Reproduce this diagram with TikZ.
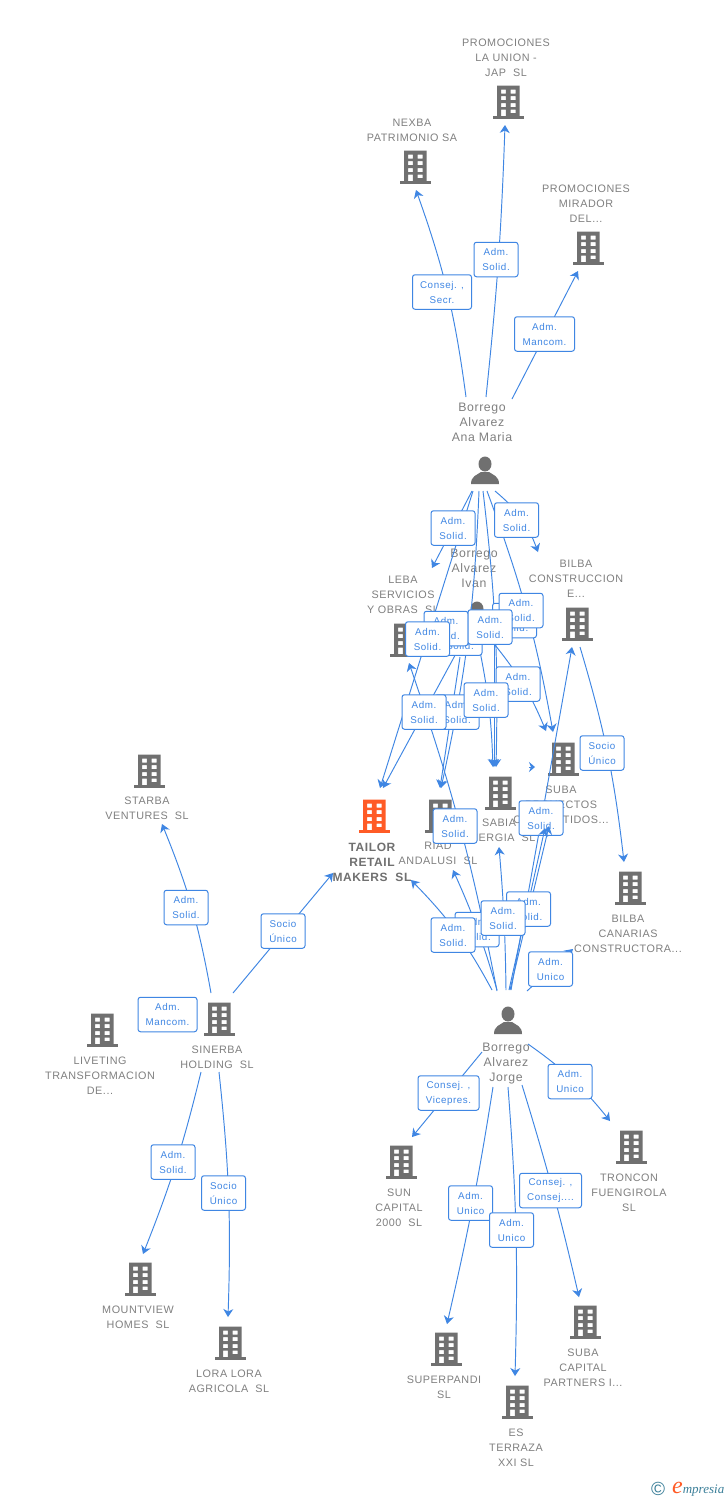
\documentclass[tikz,border=0pt]{standalone}
\usepackage{fontspec}
\setmainfont{Liberation Sans}
\newfontfamily\logofont{Liberation Serif}
\newfontfamily\spacedfont[LetterSpace=5]{Liberation Sans}
\newfontfamily\tagfont[LetterSpace=6]{Liberation Sans}
\usetikzlibrary{arrows.meta}
\definecolor{linkblue}{HTML}{3F86E3}
\definecolor{greytxt}{HTML}{808080}
\definecolor{icongrey}{HTML}{707070}
\definecolor{hiorange}{HTML}{FF5B26}
\definecolor{logoteal}{HTML}{3B7F99}
\tikzset{
 edge/.style={draw=linkblue,line width=0.95pt,-{Stealth[length=8pt,width=10pt,inset=2.5pt]}},
 tinyedge/.style={draw=linkblue,line width=0.95pt,-{Stealth[length=6pt,width=10pt,inset=2pt]}},
 iconnode/.style={minimum width=31pt,minimum height=33pt,inner sep=0pt},
 lbl/.style={align=center,text=greytxt,inner sep=0pt,yshift=-1pt,font=\spacedfont\fontsize{10.8}{15}\selectfont},
 plbl/.style={align=center,text=greytxt,inner sep=0pt,yshift=-1pt,font=\spacedfont\fontsize{12.3}{15}\selectfont},
 hilbl/.style={align=center,text=icongrey,inner sep=0pt,yshift=-1pt,font=\spacedfont\fontsize{12}{15}\selectfont\bfseries},
 tag/.style={draw=linkblue,line width=1pt,rounded corners=2.5pt,fill=white,text=linkblue,align=center,
   inner sep=0pt,minimum width=44pt,minimum height=34.5pt,font=\tagfont\fontsize{9.8}{15}\selectfont,
   execute at begin node={\rule{0pt}{9.2pt}}},
 widetag/.style={tag,minimum width=59pt},
}
\newcommand{\bldg}[4][icongrey]{%
 \node[iconnode] (#2) at (#3,#4) {};
 \begin{scope}[shift={(#3,#4)}]
  \fill[#1,even odd rule] (-11,-16.5) rectangle (11.5,14)
    (-7,-12.5) rectangle (-2.2,-8.5) (2.5,-12.5) rectangle (7.5,-8.5)
    (-7,-5.8) rectangle (-2.2,-1.8) (2.5,-5.8) rectangle (7.5,-1.8)
    (-7,1) rectangle (-2.2,5) (2.5,1) rectangle (7.5,5)
    (-7,7.5) rectangle (-2.2,14) (2.5,7.5) rectangle (7.5,11);
  \fill[#1] (-15.5,14) rectangle (16,16.5);
 \end{scope}}
\newcommand{\pers}[3]{%
 \node[iconnode,minimum width=27pt,minimum height=28pt] (#1) at (#2,#3) {};
 \begin{scope}[shift={(#2,#3)}]
  \fill[icongrey] (0,-6) ellipse (6.5 and 7.5);
  \fill[icongrey] (-14,14) .. controls (-14,6) and (-8,5) .. (-4,2) -- (4,2) .. controls (8,5) and (14,6) .. (14,14) -- cycle;
 \end{scope}}
% \conn[bend]{src}{sx,sy}{dst}{dx,dy}
\newcommand{\conn}[5][]{\draw[edge] ([shift={(#3)}]#2.center) to[#1] ([shift={(#5)}]#4.center);}
\begin{document}
\begin{tikzpicture}[x=1pt,y=-1pt]
\useasboundingbox (0,0) rectangle (728,1500);
\fill[white] (0,0) rectangle (728,1500);
% icons and names
\bldg{union}{508}{102}
\bldg{nexba}{415}{167}
\bldg{mirador}{588}{248}
\bldg{bilbac}{577}{624}
\bldg{leba}{405}{640}
\bldg{suba}{563}{759}
\bldg{sabia}{500}{793}
\bldg{riad}{440}{816}
\bldg[hiorange]{tailor}{374}{816}
\bldg{starba}{149}{771}
\bldg{sinerba}{219}{1019}
\bldg{liveting}{102}{1030}
\bldg{canarias}{630}{888}
\bldg{troncon}{631}{1147}
\bldg{sun}{401}{1162}
\bldg{mount}{140}{1279}
\bldg{lora}{230}{1343}
\bldg{superp}{446}{1349}
\bldg{terraza}{517}{1402}
\bldg{subacap}{585}{1322}
\pers{ana}{485}{470}
\pers{ivan}{477}{615}
\pers{jorge}{508}{1020}
\node[lbl] (lunion) at (506,57) {PROMOCIONES\\LA UNION -\\JAP~ SL};
\node[lbl] (lnexba) at (412,129) {NEXBA\\PATRIMONIO SA};
\node[lbl] (lmirador) at (586,203) {PROMOCIONES\\MIRADOR\\DEL...};
\node[plbl] (lana) at (482,421) {Borrego\\Alvarez\\Ana Maria};
\node[plbl] (livan) at (474,567) {Borrego\\Alvarez\\Ivan};
\node[lbl] (lleba) at (403,594) {LEBA\\SERVICIOS\\Y OBRAS~ SL};
\node[lbl] (lbilbac) at (576,578) {BILBA\\CONSTRUCCION\\E...};
\node[lbl] (lsuba) at (561,804) {SUBA\\PROYECTOS\\COMPARTIDOS...};
\node[lbl] (lsabia) at (499,829) {SABIA\\ENERGIA~ SL};
\node[lbl] (lriad) at (438,852) {RIAD\\ANDALUSI~ SL};
\node[hilbl] (ltailor) at (372,861) {TAILOR\\RETAIL\\MAKERS~ SL};
\node[lbl] (lstarba) at (147,807) {STARBA\\VENTURES~ SL};
\node[lbl] (lsinerba) at (217,1056) {SINERBA\\HOLDING~ SL};
\node[lbl] (lliveting) at (100,1075) {LIVETING\\TRANSFORMACION\\DE...};
\node[lbl] (lcanarias) at (628,933) {BILBA\\CANARIAS\\CONSTRUCTORA...};
\node[lbl] (ltroncon) at (629,1192) {TRONCON\\FUENGIROLA\\SL};
\node[lbl] (lsun) at (399,1207) {SUN\\CAPITAL\\2000~ SL};
\node[plbl] (ljorge) at (506,1063) {Borrego\\Alvarez\\Jorge};
\node[lbl] (lmount) at (138,1316) {MOUNTVIEW\\HOMES~ SL};
\node[lbl] (llora) at (229,1380) {LORA LORA\\AGRICOLA~ SL};
\node[lbl] (lsuperp) at (444,1386) {SUPERPANDI\\SL};
\node[lbl] (lterraza) at (516,1447) {ES\\TERRAZA\\XXI SL};
\node[lbl] (lsubacap) at (583,1367) {SUBA\\CAPITAL\\PARTNERS I...};
% connectors
\conn[bend right=6]{ana}{-19,-73}{nexba}{1,23}
\conn[bend right=2]{ana}{1,-73}{union}{-3,23}
\conn{ana}{27,-71}{mirador}{-10,23}
\conn{ana}{-13,21}{leba}{27,-72}
\conn[bend left=15]{ana}{10,21}{bilbac}{-39,-72}
\conn{ana}{-12,21}{tailor}{6,-28}
\conn[bend left=5]{ana}{-6,21}{riad}{1,-28}
\conn[bend left=4]{ana}{-2,21}{sabia}{-4,-26}
\conn[bend left=5]{ana}{2,21}{suba}{-10,-27}
\conn{ivan}{-12,22}{tailor}{9,-28}
\conn{ivan}{-17,42}{riad}{0,-28}
\conn{ivan}{17,28}{sabia}{-6,-26}
\conn[bend left=8]{ivan}{18,30}{suba}{-17,-28}
\conn[bend left=5]{ivan}{0,22}{sabia}{-7,-26}
\conn[bend right=4]{jorge}{-11,-29}{leba}{4,23}
\conn[bend right=8]{jorge}{-16,-30}{tailor}{37,64}
\conn[bend right=4]{jorge}{-11,-30}{riad}{13,54}
\conn[bend right=2]{jorge}{-2,-30}{sabia}{-1,54}
\conn{jorge}{3,-30}{bilbac}{-5,23}
\conn{jorge}{19,-29}{canarias}{-57,61}
\conn[bend left=5]{bilbac}{3,23}{canarias}{-6,-26}
\draw[tinyedge] ([shift={(29,-26)}]sabia.center) -- ([shift={(-28,8)}]suba.center);
\conn{jorge}{-26,32}{sun}{11,-25}
\conn[bend left=8]{jorge}{20,24}{troncon}{-21,-26}
\conn[bend left=2]{jorge}{-15,67}{superp}{1,-25}
\conn[bend left=3]{jorge}{0,67}{terraza}{-2,-26}
\conn[bend left=2]{jorge}{14,65}{subacap}{-6,-25}
\conn[bend right=6]{sinerba}{-8,-26}{starba}{13,53}
\conn{sinerba}{14,-26}{tailor}{-41,57}
\conn[bend left=4]{sinerba}{-18,53}{mount}{3,-25}
\conn[bend left=4]{sinerba}{0,53}{lora}{-2,-26}
% labels on connectors
\node[widetag] (t1) at (442,292) {Consej. ,\\Secr.};
\node[tag] (t2) at (496,259.5) {Adm.\\Solid.};
\node[widetag,minimum width=60pt] (t3) at (544.5,334) {Adm.\\Mancom.};
\node[tag] (t4) at (453,528) {Adm.\\Solid.};
\node[tag] (t5) at (516.5,520) {Adm.\\Solid.};
\node[tag] (t6) at (460,638) {Adm.\\Solid.};
\node[tag] (t7) at (446,628.5) {Adm.\\Solid.};
\node[tag] (t8) at (427.5,639) {Adm.\\Solid.};
\node[tag] (t9) at (514.5,620.5) {Adm.\\Solid.};
\node[tag] (t10) at (521,610.5) {Adm.\\Solid.};
\node[tag] (t11) at (490,627) {Adm.\\Solid.};
\node[tag] (t12) at (518,684) {Adm.\\Solid.};
\node[tag] (t13) at (457,712) {Adm.\\Solid.};
\node[tag] (t14) at (424,712) {Adm.\\Solid.};
\node[tag] (t15) at (486,700) {Adm.\\Solid.};
\node[tag] (t16) at (602,753) {Socio\\Único};
\node[tag] (t17) at (455,826) {Adm.\\Solid.};
\node[tag] (t18) at (541,818) {Adm.\\Solid.};
\conn{jorge}{1,-30}{suba}{-18,69}
\conn{jorge}{2,-30}{suba}{-14,67}
\node[tag] (t19) at (528.5,909) {Adm.\\Solid.};
\node[tag] (t20) at (477,929.5) {Adm.\\Solid.};
\node[tag] (t21) at (453,935) {Adm.\\Solid.};
\node[tag] (t22) at (503,918) {Adm.\\Solid.};
\node[tag] (t23) at (550.5,969) {Adm.\\Unico};
\node[tag] (t24) at (186,907.5) {Adm.\\Solid.};
\node[tag] (t25) at (283,931) {Socio\\Único};
\node[widetag] (t26) at (167.5,1014.5) {Adm.\\Mancom.};
\node[widetag,minimum width=61pt] (t27) at (448.5,1093) {Consej. ,\\Vicepres.};
\node[tag] (t28) at (570,1081.5) {Adm.\\Unico};
\node[widetag,minimum width=62pt] (t29) at (550.5,1190.5) {Consej. ,\\Consej....};
\node[tag] (t30) at (470.5,1203) {Adm.\\Unico};
\node[tag] (t31) at (511.5,1230) {Adm.\\Unico};
\node[tag] (t32) at (173,1162) {Adm.\\Solid.};
\node[tag] (t33) at (223.5,1193) {Socio\\Único};
% mark
\node[inner sep=0pt,text=logoteal,font=\fontsize{19}{19}\selectfont] (copyr) at (658,1489) {©};
\node[inner sep=0pt,anchor=west,text=logoteal,font=\logofont\itshape\fontsize{13}{14}\selectfont] (brand) at (672,1489.5) {{\color{hiorange}\fontsize{24}{24}\selectfont e}mpresia};
\end{tikzpicture}
\end{document}
